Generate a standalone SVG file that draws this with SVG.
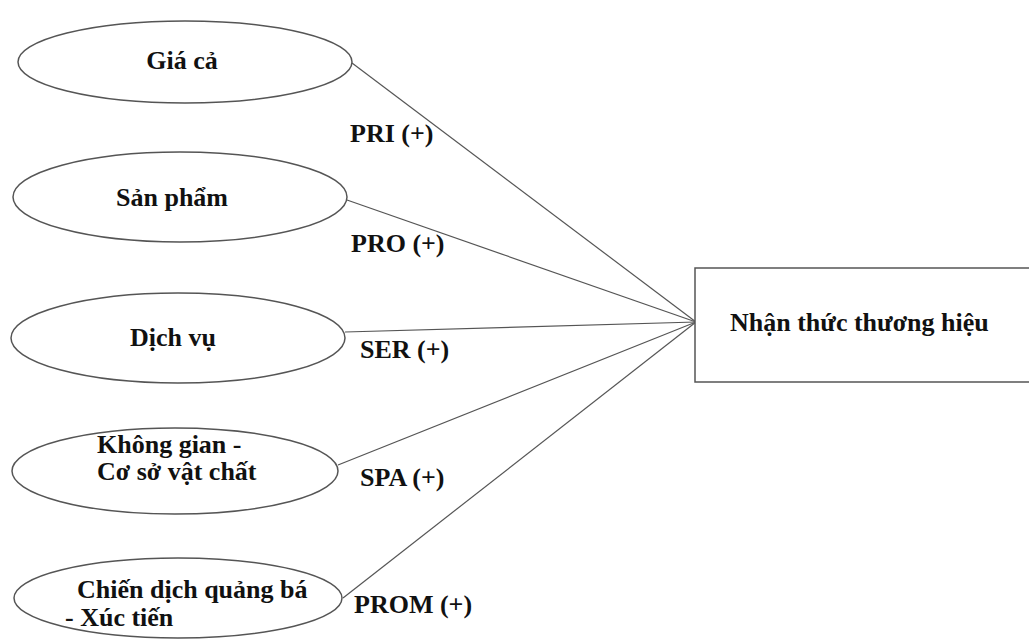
<svg xmlns="http://www.w3.org/2000/svg" width="1029" height="642" viewBox="0 0 1029 642">
<style>
.n{fill:#fff;stroke:#555;stroke-width:1.5}
.t{font-family:"Liberation Serif","Times New Roman",serif;font-weight:bold;font-size:26px;fill:#111}
.c{stroke:#555;stroke-width:1.2;fill:none}
</style>
<rect width="1029" height="642" fill="#fff"/>
<g id="connectors">
<line class="c" x1="352" y1="63" x2="696" y2="322"/>
<line class="c" x1="347" y1="200" x2="696" y2="322"/>
<line class="c" x1="345" y1="332" x2="696" y2="322"/>
<line class="c" x1="338" y1="465" x2="696" y2="322"/>
<line class="c" x1="343" y1="598" x2="696" y2="322"/>
</g>
<g id="labels">
<text class="t" x="350" y="142">PRI (+)</text>
<text class="t" x="351" y="252">PRO (+)</text>
<text class="t" x="360" y="358">SER (+)</text>
<text class="t" x="360" y="486">SPA (+)</text>
<text class="t" x="354" y="613">PROM (+)</text>
</g>
<g id="gia-ca">
<ellipse class="n" cx="185" cy="62" rx="167" ry="41"/>
<text class="t" x="182" y="69" text-anchor="middle">Giá cả</text>
</g>
<g id="san-pham">
<ellipse class="n" cx="180" cy="197" rx="167" ry="45"/>
<text class="t" x="172" y="206" text-anchor="middle">Sản phẩm</text>
</g>
<g id="dich-vu">
<ellipse class="n" cx="178" cy="338" rx="167" ry="45"/>
<text class="t" x="173" y="346" text-anchor="middle">Dịch vụ</text>
</g>
<g id="khong-gian">
<ellipse class="n" cx="175" cy="471" rx="163" ry="43"/>
<text class="t" x="97" y="453">Không gian -</text>
<text class="t" x="97" y="480">Cơ sở vật chất</text>
</g>
<g id="chien-dich">
<ellipse class="n" cx="178" cy="598" rx="164" ry="40"/>
<text class="t" x="77" y="598">Chiến dịch quảng bá</text>
<text class="t" x="65" y="626">- Xúc tiến</text>
</g>
<g id="nhan-thuc">
<rect class="n" x="695" y="268" width="340" height="114"/>
<text class="t" x="730" y="331">Nhận thức thương hiệu</text>
</g>
</svg>
